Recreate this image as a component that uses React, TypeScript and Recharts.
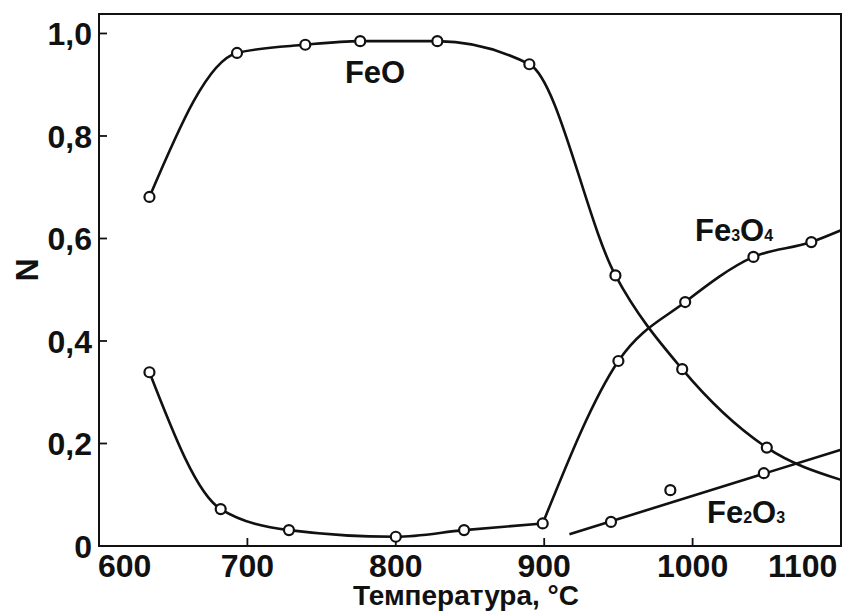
import React from 'react';
import {
  ComposedChart,
  Line,
  Scatter,
  XAxis,
  YAxis,
  ReferenceDot,
} from 'recharts';

// ---- data ----
// FeO: measured points (temperature °C, mole fraction N)
const feoT = [634, 693, 739, 776, 828, 890, 948, 993, 1050];
const feoN = [0.681, 0.962, 0.978, 0.985, 0.985, 0.940, 0.528, 0.345, 0.192];
// where the drawn FeO curve leaves the plot
const feoCurveEndT = 1100;
const feoCurveEndN = 0.129;

// Fe3O4: low-temperature branch and high-temperature branch
const fe3o4LowT = [634, 682, 728, 800, 846, 899];
const fe3o4LowN = [0.339, 0.072, 0.031, 0.018, 0.031, 0.044];
const fe3o4HighT = [950, 995, 1041, 1080];
const fe3o4HighN = [0.361, 0.476, 0.564, 0.593];
const fe3o4CurveEndT = 1100;
const fe3o4CurveEndN = 0.616;

// Fe2O3: measured points and the straight fitted line drawn through them
const fe2o3T = [945, 985, 1048];
const fe2o3N = [0.047, 0.109, 0.142];
const fe2o3LineT = [917, 1100];
const fe2o3LineN = [0.023, 0.188];

// axes
const xTicks = [600, 700, 800, 900, 1000, 1100];
const xTickLabels = ['600', '700', '800', '900', '1000', '1100'];
const yTicks = [0, 0.2, 0.4, 0.6, 0.8, 1.0];
const yTickLabels = ['0', '0,2', '0,4', '0,6', '0,8', '1,0'];
const X_MIN = 600;
const X_MAX = 1100;
const Y_MAX = 1.038;

const xTitle = 'Температура, °C';
const yTitle = 'N';

// ---- helpers building library data from the arrays ----
const zip = (xs: number[], ys: number[]) => xs.map((x, i) => ({ x, y: ys[i] }));

const feoPoints = zip(feoT, feoN);
const feoCurve = [...feoPoints, { x: feoCurveEndT, y: feoCurveEndN }];

const fe3o4LowPoints = zip(fe3o4LowT, fe3o4LowN);
const fe3o4HighPoints = zip(fe3o4HighT, fe3o4HighN);
const fe3o4LowCurve = fe3o4LowPoints;
const fe3o4HighCurve = [
  fe3o4LowPoints[fe3o4LowPoints.length - 1],
  ...fe3o4HighPoints,
  { x: fe3o4CurveEndT, y: fe3o4CurveEndN },
];
const fe3o4AllPoints = [...fe3o4LowPoints, ...fe3o4HighPoints];

const fe2o3Points = zip(fe2o3T, fe2o3N);
const fe2o3Line = zip(fe2o3LineT, fe2o3LineN);

const INK = '#111111';
const FONT = '"Liberation Sans", Arial, Helvetica, sans-serif';

// layout (pixels)
const CHART_W = 843;
const CHART_H = 606;
const MARGIN = { top: 6, right: 10, left: 0, bottom: 7 };
const Y_AXIS_W = 91;
const X_AXIS_H = 61;
const TICK_OFF = 8; // label offset from axis: tickSize (-8) + tickMargin (16)

const PLOT_X = MARGIN.left + Y_AXIS_W;
const PLOT_Y = MARGIN.top;
const PLOT_W = CHART_W - MARGIN.left - MARGIN.right - Y_AXIS_W;
const PLOT_H = CHART_H - MARGIN.top - MARGIN.bottom - X_AXIS_H;

const Marker = (p: any) => {
  if (p.cx == null || p.cy == null) return <g />;
  return <circle cx={p.cx} cy={p.cy} r={5} fill="#fff" stroke={INK} strokeWidth={2.2} />;
};

const YTickLabel = (props: any) => {
  const { x, y, payload } = props;
  const ax = x + TICK_OFF;
  const idx = yTicks.indexOf(payload.value);
  const label = idx >= 0 ? yTickLabels[idx] : String(payload.value);
  return (
    <text
      x={ax - 7}
      y={y}
      dy="0.36em"
      textAnchor="end"
      fontFamily={FONT}
      fontWeight="bold"
      fontSize={32}
      fill={INK}
    >
      {label}
    </text>
  );
};

const XTickLabel = (props: any) => {
  const { x, y, payload } = props;
  const ay = y - TICK_OFF;
  const idx = xTicks.indexOf(payload.value);
  const label = idx >= 0 ? xTickLabels[idx] : String(payload.value);
  const first = idx === 0;
  const last = idx === xTicks.length - 1;
  const anchor = first ? 'start' : last ? 'end' : 'middle';
  const tx = first ? x - 1 : last ? x + 2 : x;
  return (
    <text
      x={tx}
      y={ay + 31}
      textAnchor={anchor}
      fontFamily={FONT}
      fontWeight="bold"
      fontSize={32}
      fill={INK}
    >
      {label}
    </text>
  );
};

const XTitle = (props: any) => {
  const vb = props.viewBox || { x: PLOT_X, y: PLOT_Y + PLOT_H, width: PLOT_W, height: X_AXIS_H };
  return (
    <text
      x={vb.x + vb.width / 2 - 4}
      y={vb.y + 59}
      textAnchor="middle"
      fontFamily={FONT}
      fontWeight="bold"
      fontSize={28}
      fill={INK}
    >
      {xTitle}
    </text>
  );
};

const YTitle = (props: any) => {
  const vb = props.viewBox || { x: 0, y: PLOT_Y, width: Y_AXIS_W, height: PLOT_H };
  const cx = vb.x + 19;
  const cy = vb.y + 256;
  return (
    <text
      x={cx}
      y={cy}
      transform={`rotate(-90, ${cx}, ${cy})`}
      textAnchor="middle"
      dominantBaseline="central"
      fontFamily={FONT}
      fontWeight="bold"
      fontSize={32}
      fill={INK}
    >
      {yTitle}
    </text>
  );
};

const textLabel = (content: React.ReactNode, anchor: 'start' | 'middle') => (p: any) => (
  <text
    x={p.cx}
    y={p.cy}
    textAnchor={anchor}
    fontFamily={FONT}
    fontWeight="bold"
    fontSize={31}
    fill={INK}
  >
    {content}
  </text>
);

const curveProps = {
  dataKey: 'y',
  stroke: INK,
  strokeWidth: 2.6,
  dot: false,
  activeDot: false,
  isAnimationActive: false,
} as const;

export default function App() {
  return (
    <div style={{ position: 'absolute', left: 8, top: 8, width: CHART_W, height: CHART_H, background: '#fff' }}>
      <ComposedChart width={CHART_W} height={CHART_H} margin={MARGIN}>
        <XAxis
          dataKey="x"
          type="number"
          domain={[X_MIN, X_MAX]}
          ticks={xTicks}
          height={X_AXIS_H}
          stroke={INK}
          tickSize={-8}
          tickMargin={16}
          tickLine={{ stroke: INK, strokeWidth: 1.8 }}
          axisLine={{ stroke: INK, strokeWidth: 2 }}
          tick={<XTickLabel />}
          label={{ content: (p: any) => <XTitle {...p} /> }}
        />
        <YAxis
          dataKey="y"
          type="number"
          domain={[0, Y_MAX]}
          ticks={yTicks}
          width={Y_AXIS_W}
          stroke={INK}
          tickSize={-8}
          tickMargin={16}
          tickLine={{ stroke: INK, strokeWidth: 1.8 }}
          axisLine={{ stroke: INK, strokeWidth: 2 }}
          tick={<YTickLabel />}
          label={{ content: (p: any) => <YTitle {...p} /> }}
        />
        <Line data={feoCurve} type="monotone" {...curveProps} />
        <Line data={fe3o4LowCurve} type="monotone" {...curveProps} />
        <Line data={fe3o4HighCurve} type="monotone" {...curveProps} />
        <Line data={fe2o3Line} type="linear" {...curveProps} />
        <Scatter data={feoPoints} dataKey="y" shape={<Marker />} isAnimationActive={false} />
        <Scatter data={fe3o4AllPoints} dataKey="y" shape={<Marker />} isAnimationActive={false} />
        <Scatter data={fe2o3Points} dataKey="y" shape={<Marker />} isAnimationActive={false} />

        <ReferenceDot x={786} y={0.904} r={0} ifOverflow="visible" shape={textLabel('FeO', 'middle')} />
        <ReferenceDot
          x={1001.6}
          y={0.596}
          r={0}
          ifOverflow="visible"
          shape={textLabel(
            <>
              <tspan>Fe</tspan>
              <tspan fontSize={16}>3</tspan>
              <tspan>O</tspan>
              <tspan fontSize={16}>4</tspan>
            </>,
            'start'
          )}
        />
        <ReferenceDot
          x={1009.7}
          y={0.045}
          r={0}
          ifOverflow="visible"
          shape={textLabel(
            <>
              <tspan>Fe</tspan>
              <tspan fontSize={16}>2</tspan>
              <tspan>O</tspan>
              <tspan fontSize={16}>3</tspan>
            </>,
            'start'
          )}
        />
      </ComposedChart>
      {/* plot frame (box around the plotting area) */}
      <div
        style={{
          position: 'absolute',
          left: PLOT_X - 1,
          top: PLOT_Y - 1,
          width: PLOT_W + 2,
          height: PLOT_H + 2,
          border: `2px solid ${INK}`,
          boxSizing: 'border-box',
          pointerEvents: 'none',
          zIndex: 5,
        }}
      />
    </div>
  );
}
